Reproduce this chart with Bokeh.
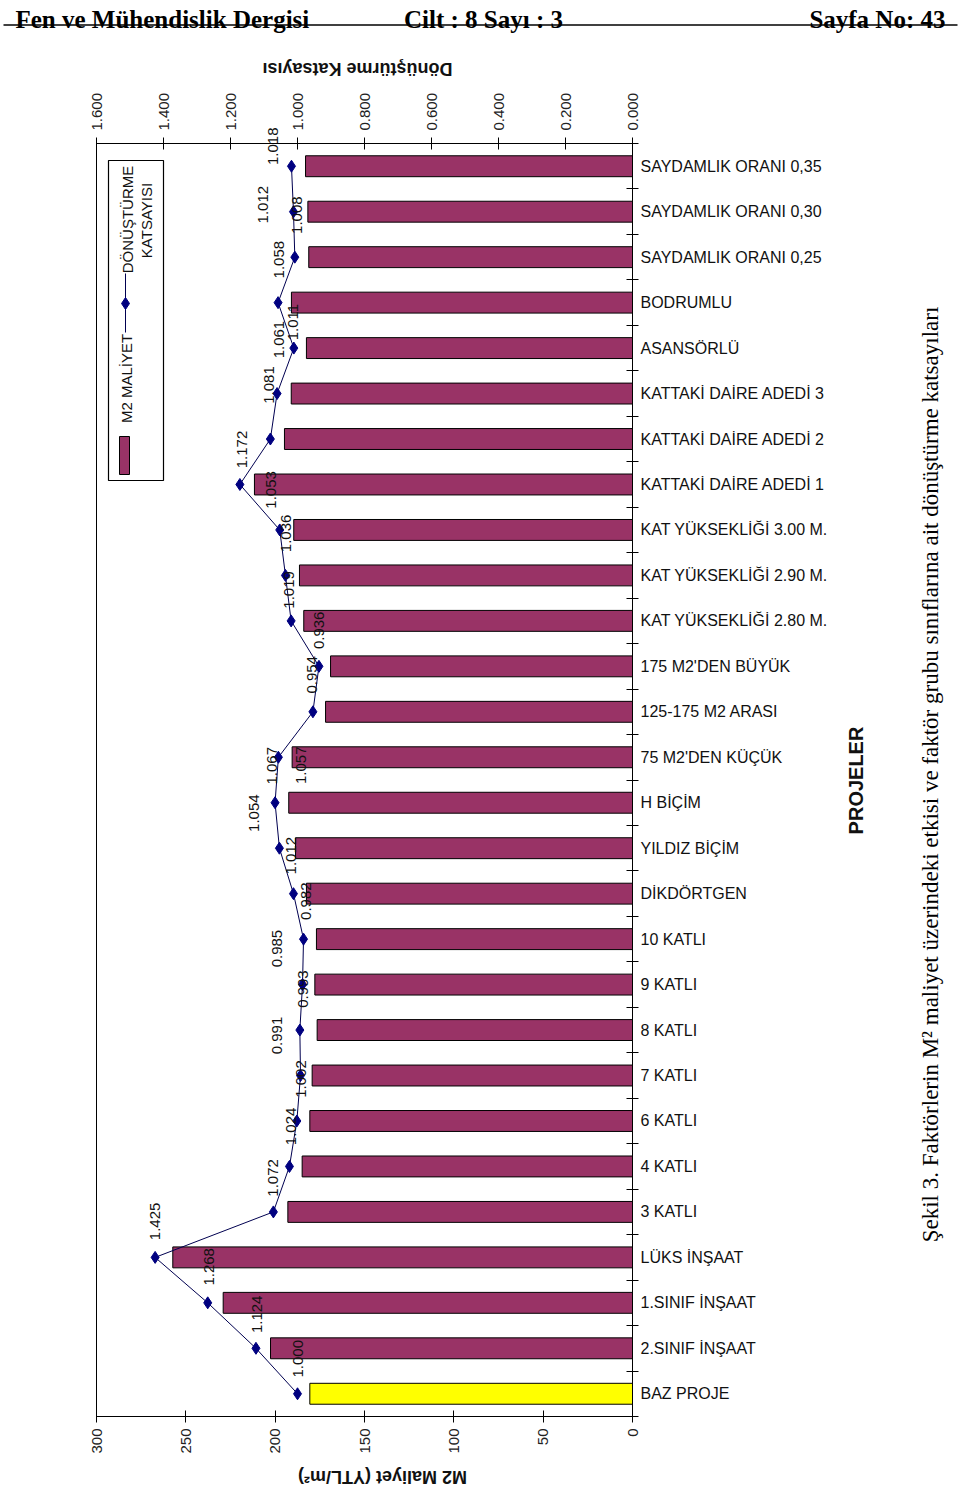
import math
from bokeh.plotting import figure
from bokeh.models import (Range1d, LinearAxis, FixedTicker, NumeralTickFormatter,
                          ColumnDataSource)
from bokeh.embed import file_html
from bokeh.resources import INLINE
from bokeh.core.properties import value

# ---------------- data ----------------
categories = [
    "BAZ PROJE", "2.SINIF İNŞAAT", "1.SINIF İNŞAAT", "LÜKS İNŞAAT",
    "3 KATLI", "4 KATLI", "6 KATLI", "7 KATLI", "8 KATLI", "9 KATLI", "10 KATLI",
    "DİKDÖRTGEN", "YILDIZ BİÇİM", "H BİÇİM",
    "75 M2'DEN KÜÇÜK", "125-175 M2 ARASI", "175 M2'DEN BÜYÜK",
    "KAT YÜKSEKLİĞİ 2.80 M.", "KAT YÜKSEKLİĞİ 2.90 M.", "KAT YÜKSEKLİĞİ 3.00 M.",
    "KATTAKİ DAİRE ADEDİ 1", "KATTAKİ DAİRE ADEDİ 2", "KATTAKİ DAİRE ADEDİ 3",
    "ASANSÖRLÜ", "BODRUMLU",
    "SAYDAMLIK ORANI 0,25", "SAYDAMLIK ORANI 0,30", "SAYDAMLIK ORANI 0,35",
]
m2_cost = [180.6, 202.6, 229.1, 257.3, 192.9, 184.9, 180.6, 179.3, 176.5, 177.8,
           176.9, 182.5, 188.6, 192.4, 190.5, 171.8, 169.0, 184.0, 186.4, 189.6,
           211.6, 194.8, 191.0, 182.5, 190.9, 181.2, 181.7, 183.0]
coefficient = [1.000, 1.124, 1.268, 1.425, 1.072, 1.024, 1.002, 0.991, 0.993, 0.985,
               0.982, 1.012, 1.054, 1.067, 1.057, 0.954, 0.936, 1.019, 1.036, 1.053,
               1.172, 1.081, 1.061, 1.011, 1.058, 1.008, 1.012, 1.018]
cost_ticks = [0, 50, 100, 150, 200, 250, 300]
coef_ticks = [0.0, 0.2, 0.4, 0.6, 0.8, 1.0, 1.2, 1.4, 1.6]

# label placement offsets (pixels) relative to each point
LABEL_DX = [0, 1, 1, 0, 0, 2, 4, -24, 3, -26, 2, -2, -25, -3, 23, -1, 0, -2, 1, -9,
            2, -1, 2, -1, 1, 2, -30, -18]
LABEL_DY = [-35, -34, -36, -36, -34, -40, -42, -40, -41, -36, -38, -38, -35, -37, 8,
            -37, -36, -31, -42, -40, -35, -54, -54, -26, -43, -42, -7, -20]

# ---------------- geometry (page pixels) ----------------
PW, PH = 960, 1496
FX0, FX1 = 96, 632      # plot area left / right on page
FY0, FY1 = 143, 1416    # plot area top / bottom on page
N = len(categories)
COST_MAX = 300
COEF_MAX = 1.6


def px2cost(X):
    return (FX1 - X) * COST_MAX / (FX1 - FX0)


def px2coef(X):
    return (FX1 - X) * COEF_MAX / (FX1 - FX0)


def py2idx(Y):
    return (FY1 - Y) * N / (FY1 - FY0) - 0.5


SANS = value("Liberation Sans")
SERIF = value("Liberation Serif")

p = figure(width=PW, height=PH,
           x_range=Range1d(px2cost(0), px2cost(PW)),
           y_range=Range1d(py2idx(PH), py2idx(0)),
           output_backend="svg", toolbar_location=None,
           x_axis_location=None, y_axis_location=None, min_border=0)
p.min_border_left = p.min_border_right = p.min_border_top = p.min_border_bottom = 0
p.extra_x_ranges = {"coef": Range1d(px2coef(0), px2coef(PW))}
p.outline_line_color = None
p.background_fill_color = "white"
p.border_fill_color = "white"
for g in p.grid:
    g.visible = False

Y_BOT, Y_TOP = -0.5, N - 0.5

# plot-area border
p.quad(left=[COST_MAX], right=[0], top=[Y_TOP], bottom=[Y_BOT], fill_color=None,
       line_color="black", line_width=1)

# bottom axis: M2 cost
ax_b = LinearAxis(ticker=FixedTicker(ticks=cost_ticks), fixed_location=Y_BOT,
                  bounds=(0, COST_MAX))
ax_b.major_label_orientation = math.pi / 2
ax_b.major_tick_in = 6
ax_b.major_tick_out = 6
ax_b.minor_tick_line_color = None
ax_b.major_label_text_font = "Liberation Sans"
ax_b.major_label_text_font_size = "15px"
ax_b.major_label_text_color = "#222222"
ax_b.major_label_standoff = 6
p.add_layout(ax_b, "below")

# top axis: conversion coefficient
ax_t = LinearAxis(x_range_name="coef", ticker=FixedTicker(ticks=coef_ticks),
                  formatter=NumeralTickFormatter(format="0.000"),
                  fixed_location=Y_TOP, bounds=(0, COEF_MAX))
ax_t.major_label_orientation = math.pi / 2
ax_t.major_tick_in = 6
ax_t.major_tick_out = 6
ax_t.minor_tick_line_color = None
ax_t.major_label_text_font = "Liberation Sans"
ax_t.major_label_text_font_size = "15px"
ax_t.major_label_text_color = "#222222"
ax_t.major_label_standoff = 7
p.add_layout(ax_t, "above")

# right axis: categories
idx = list(range(N))
ax_r = LinearAxis(ticker=FixedTicker(ticks=idx, minor_ticks=[i - 0.5 for i in range(N + 1)]),
                  fixed_location=0, bounds=(Y_BOT, Y_TOP))
ax_r.major_label_overrides = {i: c for i, c in enumerate(categories)}
ax_r.major_tick_in = 0
ax_r.major_tick_out = 0
ax_r.minor_tick_in = 6
ax_r.minor_tick_out = 6
ax_r.minor_tick_line_color = "black"
ax_r.major_label_text_font = "Liberation Sans"
ax_r.major_label_text_font_size = "16px"
ax_r.major_label_text_color = "#111111"
ax_r.major_label_standoff = 2
p.add_layout(ax_r, "right")

# bars
colors = ["#FFFF00"] + ["#993366"] * (N - 1)
src = ColumnDataSource(dict(idx=idx, cost=m2_cost, coef=coefficient, color=colors,
                            lab=[f"{v:.3f}" for v in coefficient],
                            dx=LABEL_DX, dy=LABEL_DY))
p.hbar(y="idx", left=0, right="cost", height=0.46, fill_color="color",
       line_color="black", line_width=1, source=src)

# coefficient line
p.line(x="coef", y="idx", x_range_name="coef", line_color="#000050", line_width=1,
       source=src)
p.scatter(x="coef", y="idx", x_range_name="coef", marker="diamond", size=12,
          fill_color="#000080", line_color="#000080", source=src)
p.text(x="coef", y="idx", text="lab", x_range_name="coef", x_offset="dx",
       y_offset="dy", angle=math.pi / 2, text_align="center", text_baseline="middle",
       text_font=SANS, text_font_size="15px", text_color="#111111", source=src)

# legend
p.quad(left=[px2cost(108)], right=[px2cost(163)], top=[py2idx(160)],
       bottom=[py2idx(480)], fill_color="white", line_color="black", line_width=1.2)
p.quad(left=[px2cost(119)], right=[px2cost(129)], top=[py2idx(436)],
       bottom=[py2idx(474)], fill_color="#993366", line_color="black", line_width=1)
p.text(x=[px2cost(126)], y=[py2idx(378)], text=["M2 MALİYET"], angle=math.pi / 2,
       text_align="center", text_baseline="middle", text_font=SANS,
       text_font_size="15px", text_color="#111111")
p.line(x=[px2cost(125)] * 2, y=[py2idx(273), py2idx(332)], line_color="#000050",
       line_width=1)
p.scatter(x=[px2cost(125)], y=[py2idx(303)], marker="diamond", size=12,
          fill_color="#000080", line_color="#000080")
p.text(x=[px2cost(127)], y=[py2idx(219)], text=["DÖNÜŞTÜRME"], angle=math.pi / 2,
       text_align="center", text_baseline="middle", text_font=SANS,
       text_font_size="15px", text_color="#111111")
p.text(x=[px2cost(146)], y=[py2idx(220)], text=["KATSAYISI"], angle=math.pi / 2,
       text_align="center", text_baseline="middle", text_font=SANS,
       text_font_size="15px", text_color="#111111")

# axis titles
p.text(x=[px2cost(357)], y=[py2idx(68)], text=["Dönüştürme Katsayısı"],
       angle=math.pi, text_align="center", text_baseline="middle", text_font=SANS,
       text_font_size="18px", text_font_style="bold", text_color="#111111")
p.text(x=[px2cost(382)], y=[py2idx(1476)], text=["M2 Maliyet (YTL/m²)"],
       angle=math.pi, text_align="center", text_baseline="middle", text_font=SANS,
       text_font_size="18px", text_font_style="bold", text_color="#111111")
p.text(x=[px2cost(855)], y=[py2idx(780)], text=["PROJELER"], angle=math.pi / 2,
       text_align="center", text_baseline="middle", text_font=SANS,
       text_font_size="20px", text_font_style="bold", text_color="#111111")

# page texts: caption and running header
p.text(x=[px2cost(930)], y=[py2idx(774)],
       text=["Şekil 3. Faktörlerin M² maliyet üzerindeki etkisi ve faktör grubu sınıflarına ait dönüştürme katsayıları"],
       angle=math.pi / 2, text_align="center", text_baseline="middle",
       text_font=SERIF, text_font_size="23px", text_color="black")
for hx, htxt, hal in [(15, "Fen ve Mühendislik Dergisi", "left"),
                      (483, "Cilt : 8 Sayı : 3", "center"),
                      (945, "Sayfa No: 43", "right")]:
    p.text(x=[px2cost(hx)], y=[py2idx(19)], text=[htxt], text_font=SERIF,
           text_font_size="25px", text_font_style="bold", text_baseline="alphabetic",
           text_align=hal, text_color="black")
p.line(x=[px2cost(3), px2cost(957)], y=[py2idx(24.5)] * 2, line_color="black",
       line_width=1.5)

open("out.html", "w").write(file_html(p, INLINE))
